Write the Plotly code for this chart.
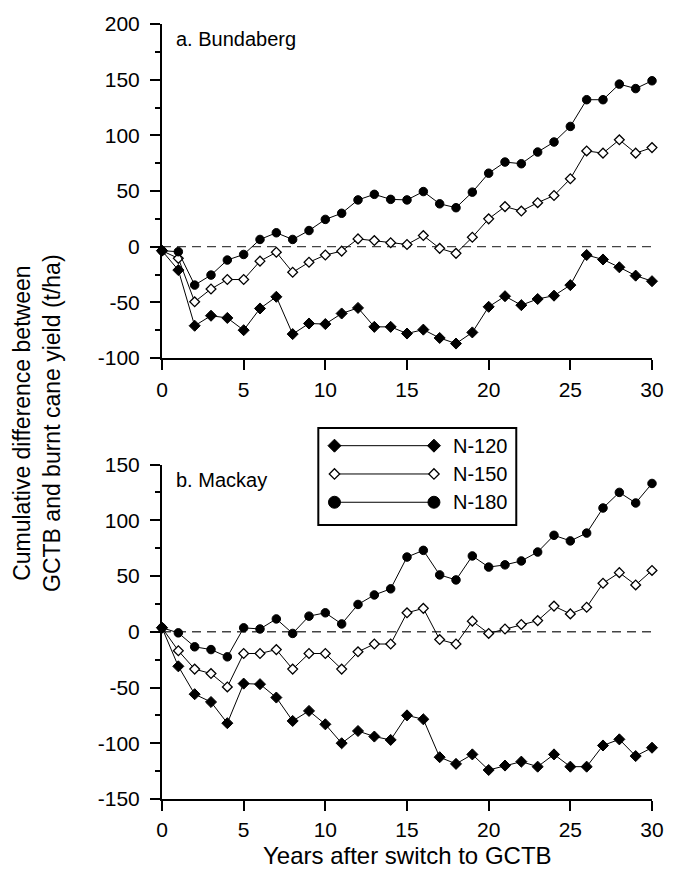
import plotly.graph_objects as go

years = list(range(31))

# a. Bundaberg
bund_n120 = [-3.6, -21, -71, -62, -64, -75, -55.5, -45, -78.5, -69, -69.5, -60, -55, -72, -72,
             -78, -74.5, -82, -87, -77, -54, -44.5, -52.5, -47, -44, -34.5, -7.5, -11.5, -18.5, -26, -31]
bund_n150 = [-3.6, -10.5, -49.5, -38, -29.5, -29.5, -13, -5, -23, -14, -7.5, -4, 7, 5.5, 3.5,
             2, 10, -1.5, -6, 8.5, 25, 36, 32, 39.5, 46, 61, 86, 84, 96, 84, 89]
bund_n180 = [-3.6, -4.5, -34.5, -25.5, -12, -7, 6.5, 12.5, 6.5, 14.5, 24.5, 30, 42, 47, 42.5,
             42, 49.5, 38.5, 35, 49, 66, 76, 74.5, 85, 94, 108, 132, 132, 146, 142, 149]

# b. Mackay
mack_n120 = [3.6, -31, -56, -63, -82, -46.5, -47, -59, -80, -71, -83, -100, -89, -94, -97,
             -75, -78.5, -112.5, -118.5, -110, -124, -120, -116.5, -121, -110, -121, -121, -102, -96.5, -111.5, -104]
mack_n150 = [3.6, -17, -33.5, -37.5, -49.5, -19.5, -19.5, -16, -33.5, -19.5, -19.5, -33.5, -18, -11, -11,
             17, 21, -7, -11, 9.5, -1.5, 2.5, 6.5, 10, 23, 16, 22, 43.5, 53, 42, 55]
mack_n180 = [3.6, -1, -13.5, -16, -22.5, 3.5, 2.5, 11.5, -1.5, 14, 17, 7, 24.5, 33, 38.5,
             67, 73, 51, 46.5, 68, 58, 60, 63.5, 71.5, 86.5, 81.5, 88.5, 111, 125, 115.5, 133]

series_names = ["N-120", "N-150", "N-180"]
x_ticks = [0, 5, 10, 15, 20, 25, 30]
y_ticks_top = [-100, -50, 0, 50, 100, 150, 200]
y_ticks_bottom = [-150, -100, -50, 0, 50, 100, 150]

FONT = "Arial, 'Liberation Sans', sans-serif"

styles = {
    "N-120": dict(symbol="diamond", size=8.5, color="black", line=dict(color="black", width=1)),
    "N-150": dict(symbol="diamond", size=7.5, color="white", line=dict(color="black", width=1.3)),
    "N-180": dict(symbol="circle", size=8.5, color="black", line=dict(color="black", width=1)),
}
legend_styles = {
    "N-120": dict(symbol="diamond", size=10, color="black", line=dict(color="black", width=1)),
    "N-150": dict(symbol="diamond", size=8, color="white", line=dict(color="black", width=1.3)),
    "N-180": dict(symbol="circle", size=12, color="black", line=dict(color="black", width=1)),
}

fig = go.Figure()

panels = [
    ("x", "y", [bund_n120, bund_n150, bund_n180]),
    ("x2", "y2", [mack_n120, mack_n150, mack_n180]),
]
for xa, ya, data in panels:
    for name, vals in zip(series_names, data):
        fig.add_trace(go.Scatter(
            x=years, y=vals, mode="lines+markers", name=name,
            xaxis=xa, yaxis=ya, cliponaxis=False,
            line=dict(color="black", width=1),
            marker=styles[name], showlegend=False,
        ))

# manual legend drawn on a hidden full-area axis pair
leg_rows = [0.4559, 0.4194, 0.3829]
for name, ry in zip(series_names, leg_rows):
    fig.add_trace(go.Scatter(
        x=[0.352, 0.555], y=[ry, ry], mode="lines+markers",
        xaxis="x3", yaxis="y3", cliponaxis=False,
        line=dict(color="black", width=1),
        marker=legend_styles[name], showlegend=False, hoverinfo="skip",
    ))

axis_common = dict(
    showline=True, linecolor="black", linewidth=2, mirror=False,
    ticks="outside", ticklen=10, tickwidth=2, tickcolor="black",
    showgrid=False, zeroline=False,
    tickfont=dict(family=FONT, size=21, color="black"),
)
minor_y = dict(dtick=25, ticks="outside", ticklen=5, tickwidth=2, tickcolor="black")

fig.update_layout(
    width=676, height=870,
    margin=dict(l=162, r=13, t=24, b=71),
    paper_bgcolor="white", plot_bgcolor="rgba(0,0,0,0)",
    showlegend=False,
    font=dict(family=FONT, color="black"),
    xaxis=dict(domain=[0, 1], anchor="y", range=[0, 30], tickvals=x_ticks,
               ticklabelstandoff=2, **axis_common),
    yaxis=dict(domain=[0.569, 1.0], anchor="x", range=[-100, 200],
               tickvals=y_ticks_top, ticktext=[str(v) for v in y_ticks_top],
               ticklabelstandoff=6, minor=minor_y, **axis_common),
    xaxis2=dict(domain=[0, 1], anchor="y2", range=[0, 30], tickvals=x_ticks,
                ticklabelstandoff=1, **axis_common),
    yaxis2=dict(domain=[0, 0.4316], anchor="x2", range=[-150, 150],
                tickvals=y_ticks_bottom, ticktext=[str(v) for v in y_ticks_bottom],
                ticklabelstandoff=6, minor=minor_y, **axis_common),
    xaxis3=dict(domain=[0, 1], anchor="y3", range=[0, 1], visible=False, fixedrange=True),
    yaxis3=dict(domain=[0, 1], anchor="x3", range=[0, 1], visible=False, fixedrange=True),
)

# zero reference lines
for xr, yr in [("x", "y"), ("x2", "y2")]:
    fig.add_shape(type="line", xref=xr, yref=yr, x0=0, x1=30, y0=0, y1=0,
                  line=dict(color="#444444", width=1.3, dash="9px,6px"), layer="below")

# legend box
fig.add_shape(type="rect", xref="paper", yref="paper", x0=0.319, x1=0.723, y0=0.3535, y1=0.4787,
              line=dict(color="black", width=2), fillcolor="white", layer="below")
for name, ry in zip(series_names, leg_rows):
    fig.add_annotation(x=0.589, y=ry, xref="paper", yref="paper", text=name, showarrow=False,
                       xanchor="left", yanchor="middle", font=dict(family=FONT, size=20, color="black"))

# panel labels
fig.add_annotation(x=0.024, y=0.981, xref="paper", yref="paper", text="a. Bundaberg", showarrow=False,
                   xanchor="left", yanchor="middle", font=dict(family=FONT, size=20, color="black"))
fig.add_annotation(x=0.024, y=0.4116, xref="paper", yref="paper", text="b. Mackay", showarrow=False,
                   xanchor="left", yanchor="middle", font=dict(family=FONT, size=20, color="black"))

# axis titles
fig.add_annotation(x=0.5, y=-0.0916, xref="paper", yref="paper", text="Years after switch to GCTB",
                   showarrow=False, xanchor="center", yanchor="bottom", borderpad=0,
                   font=dict(family=FONT, size=24, color="black"))
fig.add_annotation(x=-0.2555, y=0.485, xref="paper", yref="paper",
                   text="Cumulative difference between<br>GCTB and burnt cane yield (t/ha)",
                   showarrow=False, textangle=-90, xanchor="center", yanchor="middle",
                   font=dict(family=FONT, size=23, color="black"))

fig.write_html(
    "out.html",
    config={"displayModeBar": False},
    post_script="document.body.style.margin='0px';document.body.style.overflow='hidden';",
)
